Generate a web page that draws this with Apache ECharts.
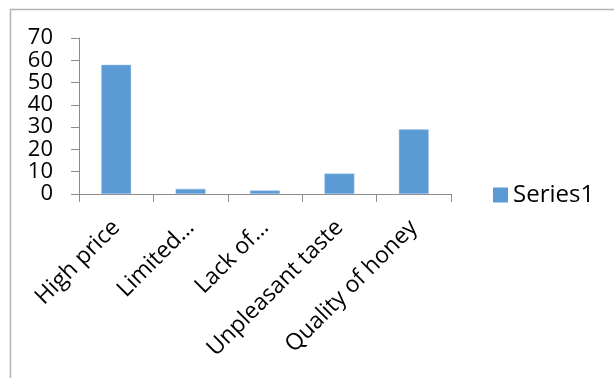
<!DOCTYPE html>
<html>
<head>
<meta charset="utf-8">
<script src="https://cdn.jsdelivr.net/npm/echarts@6/dist/echarts.min.js"></script>
<style>
  html, body { margin: 0; padding: 0; background: #fff; }
  #chart { width: 614px; height: 378px; }
</style>
</head>
<body>
<div id="chart"></div>
<script>
// data
const categories = ["High price", "Limited…", "Lack of…", "Unpleasant taste", "Quality of honey"];
const series1 = [58, 2.3, 1.6, 9.2, 29];
const yTicks = { min: 0, max: 70, interval: 10 };

const chart = echarts.init(document.getElementById("chart"));
const font = "'Open Sans', 'Liberation Sans', sans-serif";

chart.setOption({
  animation: false,
  textStyle: { fontFamily: font },
  graphic: [
    {
      // outer chart frame (only top and left edges visible)
      type: "rect",
      shape: { x: 10.5, y: 9.5, width: 700, height: 500 },
      style: { fill: "none", stroke: "#b3b3b3", lineWidth: 1.5 },
      silent: true,
    },
  ],
  legend: {
    data: ["Series1"],
    left: 493,
    top: 183,
    padding: 0,
    itemWidth: 15,
    itemHeight: 15,
    itemGap: 7,
    icon: "rect",
    itemStyle: { borderWidth: 0 },
    textStyle: { fontFamily: font, fontSize: 24, lineHeight: 24, color: "#000" },
  },
  grid: { left: 79, right: 163, top: 38, bottom: 184, containLabel: false },
  xAxis: {
    type: "category",
    data: categories,
    axisLine: { lineStyle: { color: "#8c8c8c", width: 1 } },
    axisTick: { show: true, length: 8, lineStyle: { color: "#8c8c8c" } },
    axisLabel: {
      rotate: 45,
      interval: 0,
      margin: 30,
      fontSize: 23,
      fontFamily: font,
      color: "#000",
    },
  },
  yAxis: {
    type: "value",
    min: yTicks.min,
    max: yTicks.max,
    interval: yTicks.interval,
    splitLine: { show: false },
    axisLine: { show: true, lineStyle: { color: "#8c8c8c", width: 1 } },
    axisTick: { show: true, length: 8, lineStyle: { color: "#8c8c8c" } },
    axisLabel: {
      margin: 26,
      fontSize: 22,
      fontFamily: font,
      color: "#000",
    },
  },
  series: [
    {
      name: "Series1",
      type: "bar",
      data: series1,
      barWidth: 30,
      itemStyle: { color: "#5b9bd5", borderColor: "#a9c9ea", borderWidth: 0.5 },
    },
  ],
});
</script>
</body>
</html>
